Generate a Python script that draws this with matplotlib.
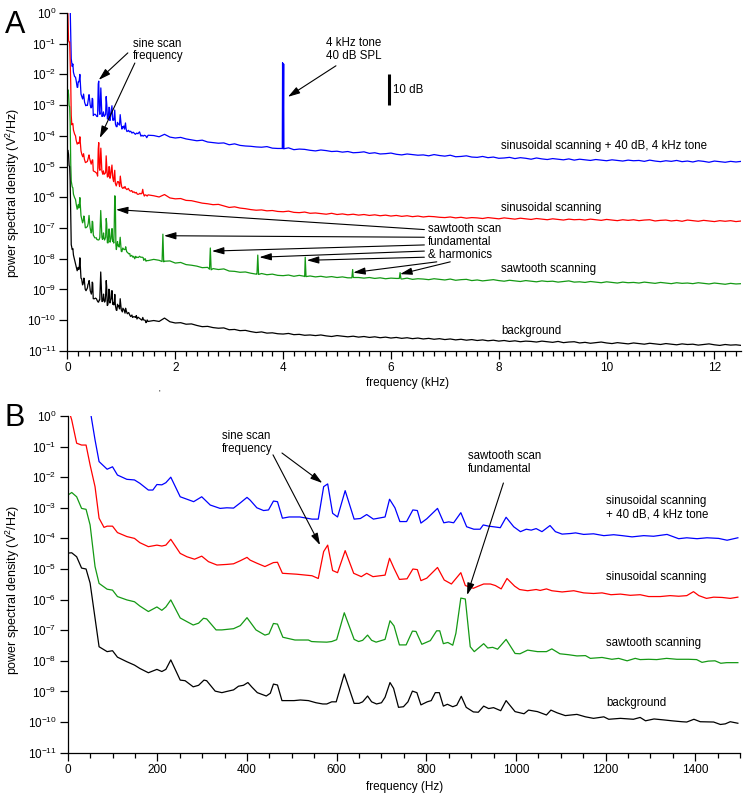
import numpy as np
import matplotlib
matplotlib.use("Agg")
import matplotlib.pyplot as plt
from matplotlib.ticker import LogLocator, MultipleLocator, NullLocator

plt.rcParams['font.family'] = ['Liberation Sans', 'DejaVu Sans']
plt.rcParams['mathtext.default'] = 'regular'
plt.rcParams['axes.unicode_minus'] = False

# ---- low frequency spectra (Hz, log10 PSD) ----
bg_f = [1, 9, 20, 31, 41, 50, 70, 88, 100, 111, 132, 149, 161, 180, 199, 210, 219, 230,
        251, 262, 280, 292, 304, 310, 329, 344, 355, 370, 381, 392, 402, 411, 423, 443,
        452, 459, 468, 478, 505, 519, 537, 554, 569, 578, 589, 599, 617, 639, 650, 658,
        669, 678, 689, 700, 708, 719, 727, 738, 749, 759, 769, 779, 788, 802, 811, 820,
        829, 838, 847, 859, 868, 878, 889, 905, 916, 928, 939, 950, 966, 978, 998, 1018,
        1028, 1048, 1068, 1078, 1092, 1110, 1136, 1155, 1173, 1196, 1207, 1233, 1262,
        1277, 1289, 1308, 1329, 1348, 1370, 1381, 1397, 1411, 1441, 1456, 1467, 1478, 1495]
bg_v = [-4.48, -4.47, -4.60, -4.97, -5.00, -5.46, -7.54, -7.70, -7.67, -7.88, -8.03, -8.14,
        -8.25, -8.39, -8.28, -8.35, -8.28, -7.97, -8.63, -8.65, -8.85, -8.80, -8.63, -8.65,
        -8.99, -9.04, -9.00, -8.95, -8.83, -8.80, -8.71, -8.86, -9.04, -9.15, -9.06, -8.76,
        -8.79, -9.30, -9.30, -9.28, -9.30, -9.37, -9.41, -9.41, -9.34, -9.34, -8.43, -9.39,
        -9.39, -9.34, -9.15, -9.34, -9.41, -9.37, -9.19, -8.71, -8.90, -9.52, -9.50, -9.34,
        -8.99, -9.04, -9.44, -9.34, -9.30, -9.04, -9.04, -9.48, -9.42, -9.50, -9.45, -9.16,
        -9.52, -9.67, -9.68, -9.48, -9.56, -9.53, -9.63, -9.30, -9.66, -9.73, -9.61, -9.66,
        -9.77, -9.61, -9.70, -9.79, -9.75, -9.83, -9.88, -9.83, -9.91, -9.88, -9.91, -9.85,
        -9.96, -9.90, -9.93, -9.96, -9.99, -10.00, -9.91, -9.99, -10.00, -10.08, -10.06,
        -9.99, -10.04]

saw_f = [1, 9, 20, 31, 41, 50, 61, 70, 88, 100, 111, 132, 149, 161, 180, 199, 210, 219, 230,
         251, 266, 280, 292, 303, 310, 331, 344, 370, 385, 400, 420, 440, 449, 459, 468, 480,
         507, 537, 544, 556, 578, 589, 600, 617, 639, 649, 658, 669, 678, 688, 708, 719, 728,
         740, 755, 769, 777, 790, 809, 823, 830, 838, 848, 859, 866, 877, 887, 898, 907, 928,
         937, 948, 959, 978, 998, 1009, 1026, 1048, 1068, 1080, 1098, 1117, 1136, 1155, 1166,
         1192, 1214, 1229, 1248, 1266, 1277, 1296, 1314, 1336, 1359, 1385, 1403, 1415, 1429,
         1444, 1457, 1470, 1495]
saw_v = [-2.58, -2.50, -2.64, -3.02, -3.05, -3.56, -4.92, -5.47, -5.66, -5.69, -5.90, -6.01,
         -6.07, -6.21, -6.39, -6.24, -6.35, -6.24, -6.01, -6.60, -6.72, -6.83, -6.77, -6.61,
         -6.63, -6.99, -6.99, -6.95, -6.85, -6.59, -6.99, -7.16, -7.12, -6.78, -6.80, -7.23,
         -7.32, -7.32, -7.37, -7.38, -7.39, -7.37, -7.31, -6.43, -7.30, -7.37, -7.33, -7.16,
         -7.33, -7.39, -7.30, -6.69, -6.86, -7.48, -7.48, -7.03, -7.04, -7.46, -7.34, -7.02,
         -7.02, -7.44, -7.40, -7.49, -7.10, -5.95, -5.98, -7.54, -7.70, -7.44, -7.58, -7.56,
         -7.62, -7.30, -7.76, -7.77, -7.65, -7.70, -7.70, -7.61, -7.77, -7.80, -7.84, -7.83,
         -7.92, -7.89, -7.95, -7.92, -8.00, -7.92, -7.96, -7.95, -7.96, -7.92, -7.95, -7.95,
         -7.96, -8.05, -8.01, -8.00, -8.08, -8.06, -8.06]

sin_f = [0, 9, 20, 31, 41, 50, 61, 70, 81, 88, 100, 111, 132, 149, 161, 180, 199, 210, 219,
         230, 251, 266, 283, 299, 314, 333, 355, 370, 385, 400, 407, 422, 440, 459, 468, 479,
         511, 545, 559, 571, 580, 591, 602, 619, 638, 655, 667, 681, 708, 718, 728, 740, 757,
         770, 780, 788, 801, 825, 840, 856, 877, 887, 905, 916, 928, 943, 954, 967, 980, 997,
         1008, 1026, 1045, 1054, 1068, 1080, 1103, 1129, 1151, 1173, 1192, 1212, 1233, 1255,
         1277, 1296, 1322, 1344, 1363, 1381, 1396, 1408, 1425, 1441, 1460, 1478, 1495]
sin_v = [0.30, -0.13, -0.89, -0.95, -0.95, -1.60, -2.31, -3.34, -3.64, -3.60, -3.60, -3.81,
         -3.94, -4.00, -4.14, -4.27, -4.22, -4.25, -4.22, -4.03, -4.49, -4.60, -4.68, -4.58,
         -4.76, -4.87, -4.85, -4.83, -4.73, -4.62, -4.71, -4.81, -4.92, -4.79, -4.78, -5.14,
         -5.17, -5.22, -5.31, -4.43, -4.22, -5.05, -5.12, -4.40, -5.14, -5.25, -5.14, -5.25,
         -5.20, -4.65, -4.98, -5.34, -5.32, -5.00, -5.02, -5.38, -5.30, -4.95, -5.36, -5.49,
         -5.12, -5.54, -5.63, -5.56, -5.49, -5.49, -5.54, -5.65, -5.31, -5.56, -5.67, -5.71,
         -5.67, -5.70, -5.65, -5.71, -5.75, -5.71, -5.78, -5.80, -5.78, -5.84, -5.82, -5.86,
         -5.84, -5.90, -5.90, -5.87, -5.89, -5.87, -5.74, -5.87, -5.96, -5.92, -5.93, -5.96,
         -5.92]

tone_f = [0, 30, 50, 61, 70, 88, 100, 111, 132, 149, 161, 180, 190, 199, 210, 219, 230, 251,
          281, 299, 318, 340, 355, 370, 385, 400, 407, 422, 437, 448, 459, 468, 479, 494, 518,
          545, 559, 571, 580, 591, 602, 619, 639, 653, 667, 682, 708, 718, 730, 741, 756, 770,
          780, 788, 801, 825, 839, 850, 861, 877, 890, 906, 920, 927, 939, 950, 965, 978, 995,
          1010, 1023, 1034, 1045, 1058, 1076, 1088, 1103, 1122, 1133, 1151, 1173, 1196, 1218,
          1237, 1259, 1285, 1307, 1337, 1363, 1381, 1404, 1426, 1452, 1471, 1495]
tone_v = [1.50, 1.00, 0.20, -0.78, -1.49, -1.74, -1.66, -1.93, -2.07, -2.09, -2.20, -2.42,
          -2.42, -2.24, -2.25, -2.18, -2.00, -2.64, -2.80, -2.64, -2.91, -3.02, -3.00, -3.01,
          -2.84, -2.66, -2.75, -3.00, -3.09, -3.07, -2.78, -2.80, -3.34, -3.30, -3.30, -3.37,
          -3.37, -2.31, -2.22, -3.18, -3.30, -2.44, -3.37, -3.35, -3.22, -3.37, -3.30, -2.72,
          -3.00, -3.45, -3.45, -3.07, -3.09, -3.50, -3.36, -3.02, -3.49, -3.46, -3.49, -3.16,
          -3.62, -3.70, -3.70, -3.56, -3.60, -3.62, -3.65, -3.31, -3.62, -3.78, -3.70, -3.73,
          -3.68, -3.78, -3.58, -3.78, -3.86, -3.84, -3.82, -3.87, -3.85, -3.91, -3.88, -3.91,
          -3.95, -3.91, -3.93, -3.87, -4.01, -3.98, -4.01, -3.98, -4.00, -4.06, -3.98]

# ---- high frequency part of panel A (1.6 - 12.5 kHz, 0.1 kHz steps) ----
hi_khz = np.round(np.arange(1.6, 12.51, 0.1), 2)
tone_hi = [-3.99, -4.03, -3.95, -4.04, -4.07, -4.05, -4.10, -4.13, -4.16, -4.14,
           -4.20, -4.22, -4.24, -4.23, -4.29, -4.26, -4.31, -4.33, -4.34, -4.36,
           -4.37, -4.35, -4.40, -4.41, -4.42, -4.39, -4.45, -4.43, -4.44, -4.47,
           -4.49, -4.46, -4.48, -4.51, -4.50, -4.53, -4.51, -4.55, -4.54, -4.52,
           -4.57, -4.55, -4.59, -4.58, -4.56, -4.60, -4.62, -4.59, -4.61, -4.63,
           -4.62, -4.65, -4.61, -4.64, -4.66, -4.63, -4.68, -4.67, -4.65, -4.69,
           -4.70, -4.67, -4.71, -4.69, -4.73, -4.72, -4.70, -4.74, -4.71, -4.73,
           -4.76, -4.72, -4.75, -4.77, -4.74, -4.76, -4.78, -4.75, -4.79, -4.76,
           -4.78, -4.80, -4.77, -4.79, -4.81, -4.78, -4.80, -4.82, -4.79, -4.81,
           -4.80, -4.83, -4.79, -4.82, -4.84, -4.81, -4.83, -4.80, -4.84, -4.82,
           -4.85, -4.81, -4.83, -4.86, -4.82, -4.84, -4.86, -4.83, -4.85, -4.83]
sin_hi = [-5.95, -5.99, -5.91, -6.02, -6.05, -6.04, -6.10, -6.11, -6.15, -6.19,
          -6.21, -6.24, -6.23, -6.28, -6.33, -6.31, -6.35, -6.37, -6.40, -6.42,
          -6.41, -6.44, -6.43, -6.46, -6.47, -6.45, -6.49, -6.50, -6.48, -6.52,
          -6.51, -6.53, -6.55, -6.52, -6.56, -6.54, -6.57, -6.55, -6.58, -6.56,
          -6.59, -6.57, -6.60, -6.58, -6.61, -6.59, -6.62, -6.60, -6.63, -6.61,
          -6.64, -6.62, -6.63, -6.65, -6.66, -6.64, -6.67, -6.65, -6.68, -6.66,
          -6.67, -6.69, -6.66, -6.68, -6.70, -6.67, -6.69, -6.71, -6.68, -6.70,
          -6.72, -6.69, -6.71, -6.73, -6.70, -6.72, -6.74, -6.71, -6.73, -6.72,
          -6.74, -6.71, -6.73, -6.75, -6.72, -6.74, -6.76, -6.73, -6.75, -6.73,
          -6.76, -6.74, -6.73, -6.77, -6.75, -6.74, -6.77, -6.75, -6.78, -6.74,
          -6.76, -6.78, -6.75, -6.77, -6.79, -6.76, -6.78, -6.76, -6.79, -6.77]
saw_hi = [-8.02, -8.05, -8.08, -8.07, -8.14, -8.12, -8.19, -8.21, -8.24, -8.29,
          -8.28, -8.32, -8.35, -8.33, -8.40, -8.41, -8.44, -8.43, -8.47, -8.50,
          -8.48, -8.52, -8.50, -8.54, -8.55, -8.53, -8.57, -8.54, -8.58, -8.56,
          -8.59, -8.57, -8.60, -8.58, -8.61, -8.59, -8.62, -8.60, -8.61, -8.63,
          -8.61, -8.64, -8.62, -8.65, -8.63, -8.64, -8.66, -8.63, -8.67, -8.65,
          -8.66, -8.68, -8.65, -8.67, -8.69, -8.66, -8.70, -8.68, -8.67, -8.71,
          -8.69, -8.72, -8.70, -8.68, -8.71, -8.73, -8.70, -8.72, -8.74, -8.71,
          -8.73, -8.75, -8.72, -8.74, -8.73, -8.76, -8.74, -8.72, -8.76, -8.75,
          -8.77, -8.74, -8.76, -8.78, -8.75, -8.77, -8.79, -8.76, -8.78, -8.77,
          -8.79, -8.76, -8.78, -8.80, -8.77, -8.79, -8.81, -8.78, -8.80, -8.79,
          -8.81, -8.78, -8.80, -8.82, -8.79, -8.81, -8.83, -8.80, -8.82, -8.81]
bg_hi = [-10.01, -10.04, -9.93, -10.05, -10.09, -10.08, -10.13, -10.12, -10.17, -10.21,
         -10.20, -10.24, -10.26, -10.25, -10.31, -10.30, -10.34, -10.33, -10.37, -10.40,
         -10.38, -10.42, -10.41, -10.44, -10.45, -10.43, -10.47, -10.46, -10.49, -10.48,
         -10.50, -10.48, -10.51, -10.53, -10.50, -10.52, -10.54, -10.52, -10.55, -10.53,
         -10.56, -10.54, -10.57, -10.55, -10.58, -10.56, -10.59, -10.57, -10.60, -10.58,
         -10.61, -10.59, -10.62, -10.60, -10.63, -10.61, -10.64, -10.62, -10.65, -10.63,
         -10.66, -10.64, -10.67, -10.65, -10.68, -10.66, -10.69, -10.67, -10.70, -10.68,
         -10.69, -10.71, -10.68, -10.70, -10.72, -10.69, -10.73, -10.71, -10.70, -10.74,
         -10.72, -10.75, -10.73, -10.71, -10.74, -10.76, -10.73, -10.75, -10.77, -10.74,
         -10.76, -10.78, -10.75, -10.77, -10.79, -10.76, -10.78, -10.80, -10.77, -10.79,
         -10.78, -10.81, -10.79, -10.77, -10.80, -10.82, -10.79, -10.81, -10.80, -10.82]

# narrow spectral lines in panel A (kHz, log10 PSD)
tone_line_f = [3.985, 3.99, 4.01, 4.015]
tone_line_v = [-4.41, -1.62, -1.66, -4.42]
saw_harm_f = [1.755, 1.77, 1.785, 2.635, 2.65, 2.665, 3.515, 3.53, 3.545,
              4.395, 4.41, 4.425, 5.275, 5.29, 5.305, 6.155, 6.17, 6.185]
saw_harm_v = [-8.09, -7.20, -8.10, -8.34, -7.65, -8.36, -8.50, -7.88, -8.51,
              -8.57, -7.95, -8.58, -8.62, -8.35, -8.61, -8.64, -8.45, -8.65]

colors = {'tone': '#0000ff', 'sin': '#ff0000', 'saw': '#149914', 'bg': '#000000'}


def full_curve(f_low, v_low, v_hi, extra_f=(), extra_v=()):
    f = np.concatenate([np.array(f_low) / 1000.0, hi_khz, np.array(extra_f, dtype=float)])
    v = np.concatenate([v_low, v_hi, np.array(extra_v, dtype=float)])
    order = np.argsort(f, kind='stable')
    return f[order], 10.0 ** v[order]


def style_axis(ax):
    ax.set_yscale('log')
    ax.set_ylim(1e-11, 1)
    ax.yaxis.set_major_locator(LogLocator(base=10.0, subs=(1.0,), numticks=20))
    ax.yaxis.set_minor_locator(NullLocator())
    for s in ['top', 'right']:
        ax.spines[s].set_visible(False)
    for s in ['left', 'bottom']:
        ax.spines[s].set_linewidth(0.9)
    ax.tick_params(which='major', length=6, width=0.9, pad=2, labelsize=8.5)
    ax.tick_params(which='minor', length=3.5, width=0.9)


arrow = dict(arrowstyle='-|>,head_length=0.6,head_width=0.18', color='k', lw=0.8,
             mutation_scale=12, shrinkA=0, shrinkB=0)
fs = 8.3

fig = plt.figure(figsize=(7.43, 7.94), dpi=100)
axA = fig.add_axes([0.0908, 0.558, 0.907, 0.4257])
axB = fig.add_axes([0.0911, 0.0521, 0.905, 0.424])

# ---- panel A ----
for key, fl, vl, vh, ef, ev in [('tone', tone_f, tone_v, tone_hi, tone_line_f, tone_line_v),
                                ('sin', sin_f, sin_v, sin_hi, (), ()),
                                ('saw', saw_f, saw_v, saw_hi, saw_harm_f, saw_harm_v),
                                ('bg', bg_f, bg_v, bg_hi, (), ())]:
    x, y = full_curve(fl, vl, vh, ef, ev)
    axA.plot(x, y, color=colors[key], lw=0.9)

style_axis(axA)
axA.set_xlim(0, 12.5)
axA.xaxis.set_major_locator(MultipleLocator(2))
axA.xaxis.set_minor_locator(MultipleLocator(0.2))

axA.text(1.21, 10**-0.8, 'sine scan\nfrequency', fontsize=fs, va='top', linespacing=1.1)
axA.annotate('', xy=(0.58, 10**-2.18), xytext=(1.12, 10**-1.30), arrowprops=arrow)
axA.annotate('', xy=(0.60, 10**-4.07), xytext=(1.25, 10**-1.63), arrowprops=arrow)
axA.text(4.79, 10**-0.78, '4 kHz tone\n40 dB SPL', fontsize=fs, va='top', linespacing=1.1)
axA.annotate('', xy=(4.09, 10**-2.73), xytext=(4.98, 10**-1.72), arrowprops=arrow)
axA.plot([5.96, 5.96], [10**-2.0, 10**-3.0], color='k', lw=2.2, solid_capstyle='butt')
axA.text(6.03, 10**-2.5, '10 dB', fontsize=fs, va='center')

axA.text(6.68, 10**-6.85, 'sawtooth scan\nfundamental\n& harmonics', fontsize=fs,
         va='top', linespacing=1.1)
for tip, tail in [((0.90, -6.4), (6.62, -7.05)), ((1.79, -7.25), (6.62, -7.3)),
                  ((2.68, -7.75), (6.62, -7.55)), ((3.56, -7.95), (6.62, -7.75)),
                  ((4.44, -8.05), (6.62, -7.95)), ((5.30, -8.45), (6.85, -8.1)),
                  ((6.17, -8.5), (7.10, -8.1))]:
    axA.annotate('', xy=(tip[0], 10**tip[1]), xytext=(tail[0], 10**tail[1]), arrowprops=arrow)

for txt, yv in [('sinusoidal scanning + 40 dB, 4 kHz tone', -4.33),
                ('sinusoidal scanning', -6.35), ('sawtooth scanning', -8.33),
                ('background', -10.35)]:
    axA.text(8.04, 10**yv, txt, fontsize=fs, va='center')

# ---- panel B ----
for key, fl, vl in [('tone', tone_f, tone_v), ('sin', sin_f, sin_v),
                    ('saw', saw_f, saw_v), ('bg', bg_f, bg_v)]:
    axB.plot(fl, 10.0 ** np.array(vl), color=colors[key], lw=0.9)

style_axis(axB)
axB.set_xlim(0, 1500)
axB.xaxis.set_major_locator(MultipleLocator(200))
axB.xaxis.set_minor_locator(MultipleLocator(50))

axB.text(344, 10**-0.46, 'sine scan\nfrequency', fontsize=fs, va='top', linespacing=1.1)
axB.annotate('', xy=(568, 10**-2.19), xytext=(478, 10**-1.21), arrowprops=arrow)
axB.annotate('', xy=(563, 10**-4.22), xytext=(458, 10**-1.27), arrowprops=arrow)
axB.text(893, 10**-1.11, 'sawtooth scan\nfundamental', fontsize=fs, va='top', linespacing=1.1)
axB.annotate('', xy=(891, 10**-5.85), xytext=(972, 10**-2.19), arrowprops=arrow)

axB.text(1201, 10**-3.0, 'sinusoidal scanning\n+ 40 dB, 4 kHz tone', fontsize=fs,
         va='center', linespacing=1.1)
for txt, yv in [('sinusoidal scanning', -5.26), ('sawtooth scanning', -7.42),
                ('background', -9.38)]:
    axB.text(1201, 10**yv, txt, fontsize=fs, va='center')

# ---- labels ----
ylab = 'power spectral density (V$^2$/Hz)'
fig.text(0.017, 0.757, ylab, rotation=90, ha='center', va='center', fontsize=9)
fig.text(0.017, 0.257, ylab, rotation=90, ha='center', va='center', fontsize=9)
fig.text(0.549, 0.5176, 'frequency (kHz)', ha='center', va='center', fontsize=8.5)
fig.text(0.544, 0.0088, 'frequency (Hz)', ha='center', va='center', fontsize=8.5)
fig.text(0.006, 0.988, 'A', fontsize=22, va='top', ha='left')
fig.text(0.006, 0.492, 'B', fontsize=22, va='top', ha='left')
fig.text(0.215, 0.505, "'", fontsize=6, ha='center', va='center')

fig.savefig('out.png', dpi=100)
